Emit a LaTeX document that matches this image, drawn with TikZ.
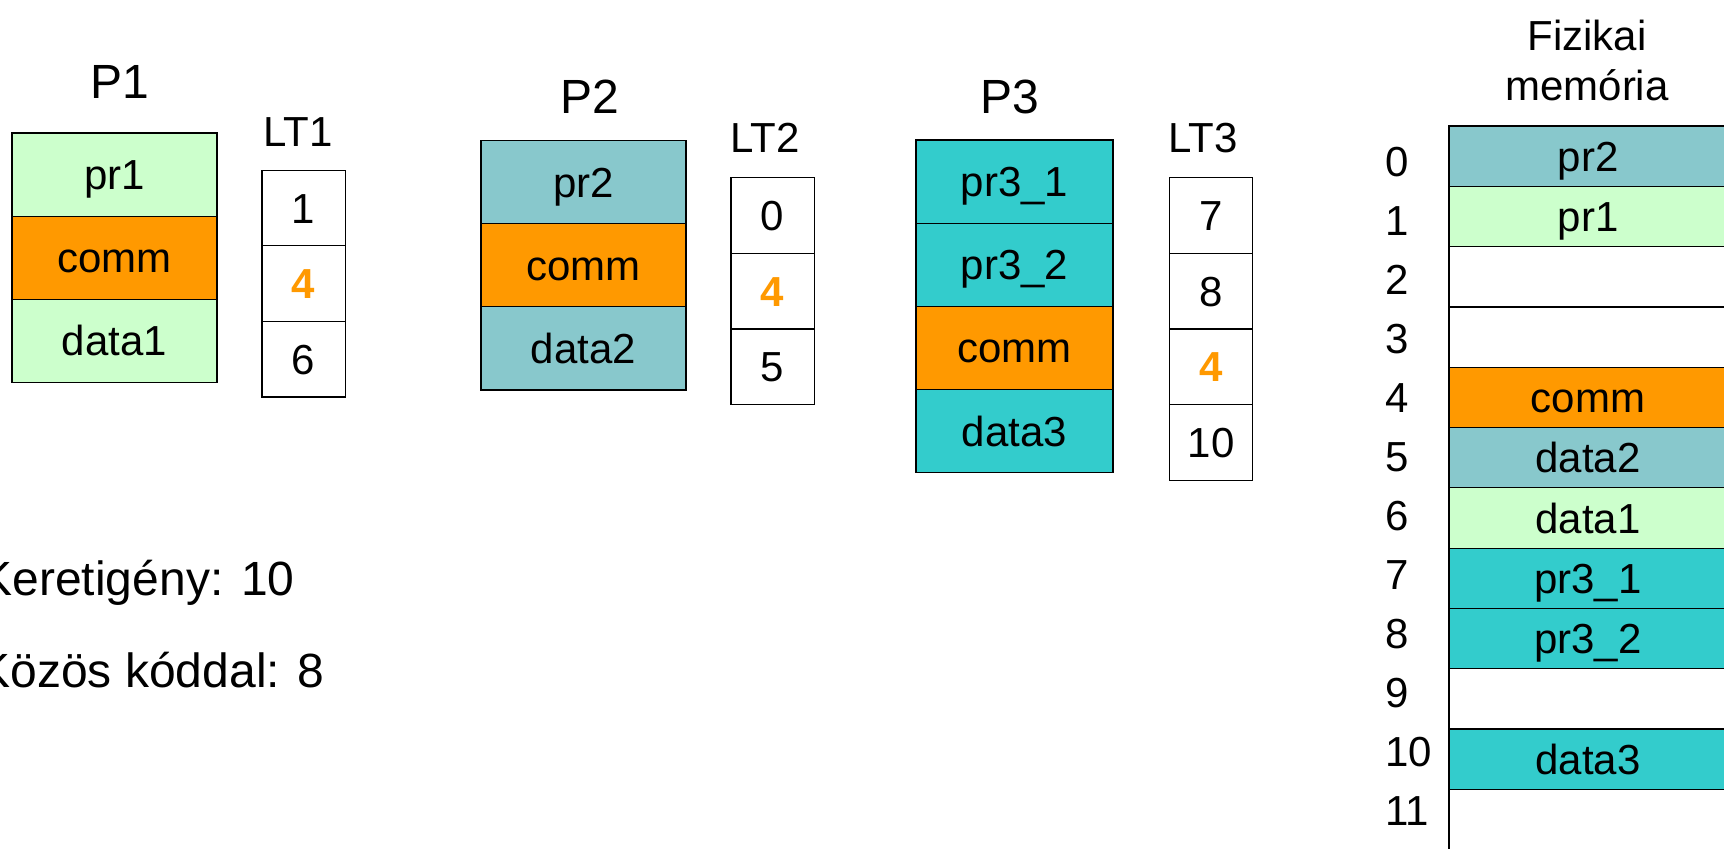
\documentclass[tikz,border=0pt]{standalone}
\usepackage{fontspec}
\setmainfont{Liberation Sans}
\definecolor{lightgreen}{HTML}{CCFFCC}
\definecolor{commorange}{HTML}{FF9900}
\definecolor{grayteal}{HTML}{88C8CC}
\definecolor{turq}{HTML}{33CCCC}

\def\segfont{\fontsize{21}{25}\selectfont}
\def\titlefont{\fontsize{24}{29}\selectfont}
\def\hl{\color{commorange}\bfseries}
\tikzset{box:base/.style={draw,line width=0.6pt,inner sep=0pt,outer sep=0pt,
	text height=15pt,text depth=0pt,font=\segfont}}
\tikzset{seg:style/.style={box:base,minimum width=102.5pt,minimum height=41.6pt}}
\tikzset{lt:style/.style={box:base,minimum width=41.6pt,minimum height=37.8pt}}
\tikzset{mem:style/.style={box:base,minimum width=139pt,minimum height=30.15pt}}
\tikzset{title:style/.style={inner sep=0pt,font=\titlefont}}
\tikzset{ltname:style/.style={inner sep=0pt,font=\segfont}}

\begin{document}
\begin{tikzpicture}[x=0.5pt,y=-0.5pt]
	\useasboundingbox (0,0) rectangle (1724,848);
	\clip (0,0) rectangle (1724,848);

	% P1 and LT1
	\path (120,82) node[title:style] (t1) {P1};
	\path (114.5,174.5) node[seg:style,fill=lightgreen] (p1a) {pr1};
	\path (p1a.south) node[seg:style,anchor=north,fill=commorange] (p1b) {comm};
	\path (p1b.south) node[seg:style,anchor=north,fill=lightgreen] (p1c) {data1};
	\path (298,132) node[ltname:style] (l1) {LT1};
	\path (303.5,208) node[lt:style] (lt1a) {1};
	\path (lt1a.south) node[lt:style,anchor=north] (lt1b) {\hl 4};
	\path (lt1b.south) node[lt:style,anchor=north] (lt1c) {6};

	% P2 and LT2
	\path (590,97) node[title:style] (t2) {P2};
	\path (583.5,182) node[seg:style,fill=grayteal] (p2a) {pr2};
	\path (p2a.south) node[seg:style,anchor=north,fill=commorange] (p2b) {comm};
	\path (p2b.south) node[seg:style,anchor=north,fill=grayteal] (p2c) {data2};
	\path (765,138) node[ltname:style] (l2) {LT2};
	\path (772.5,215.5) node[lt:style] (lt2a) {0};
	\path (lt2a.south) node[lt:style,anchor=north] (lt2b) {\hl 4};
	\path (lt2b.south) node[lt:style,anchor=north] (lt2c) {5};

	% P3 and LT3
	\path (1010,97) node[title:style] (t3) {P3};
	\path (1014.5,181.5) node[seg:style,minimum width=98.5pt,fill=turq] (p3a) {pr3\_1};
	\path (p3a.south) node[seg:style,minimum width=98.5pt,anchor=north,fill=turq] (p3b) {pr3\_2};
	\path (p3b.south) node[seg:style,minimum width=98.5pt,anchor=north,fill=commorange] (p3c) {comm};
	\path (p3c.south) node[seg:style,minimum width=98.5pt,anchor=north,fill=turq] (p3d) {data3};
	\path (1203,138) node[ltname:style] (l3) {LT3};
	\path (1211,215.5) node[lt:style] (lt3a) {7};
	\path (lt3a.south) node[lt:style,anchor=north] (lt3b) {8};
	\path (lt3b.south) node[lt:style,anchor=north] (lt3c) {\hl 4};
	\path (lt3c.south) node[lt:style,anchor=north] (lt3d) {10};

	% physical memory
	\path (1587,60) node[ltname:style,align=center] (fm) {Fizikai\\memória};
	\foreach \i/\txt/\col in {0/pr2/grayteal,1/pr1/lightgreen,2/{}/white,3/{}/white,
		4/comm/commorange,5/data2/grayteal,6/data1/lightgreen,7/pr3\_1/turq,
		8/pr3\_2/turq,9/{}/white,10/data3/turq,11/{}/white}
		\path (1588,156.2+60.3*\i) node[mem:style,fill=\col] (m\i) {\txt};
	\foreach \i in {0,...,11}
		\path (1385,162+59*\i) node[ltname:style,anchor=west] (idx\i) {\i};

	% totals
	\path (295,595) node[title:style,anchor=base east] (k1) {Keretigény: 10};
	\path (325,687) node[title:style,anchor=base east] (k2) {Közös kóddal: 8};

\end{tikzpicture}
\end{document}
